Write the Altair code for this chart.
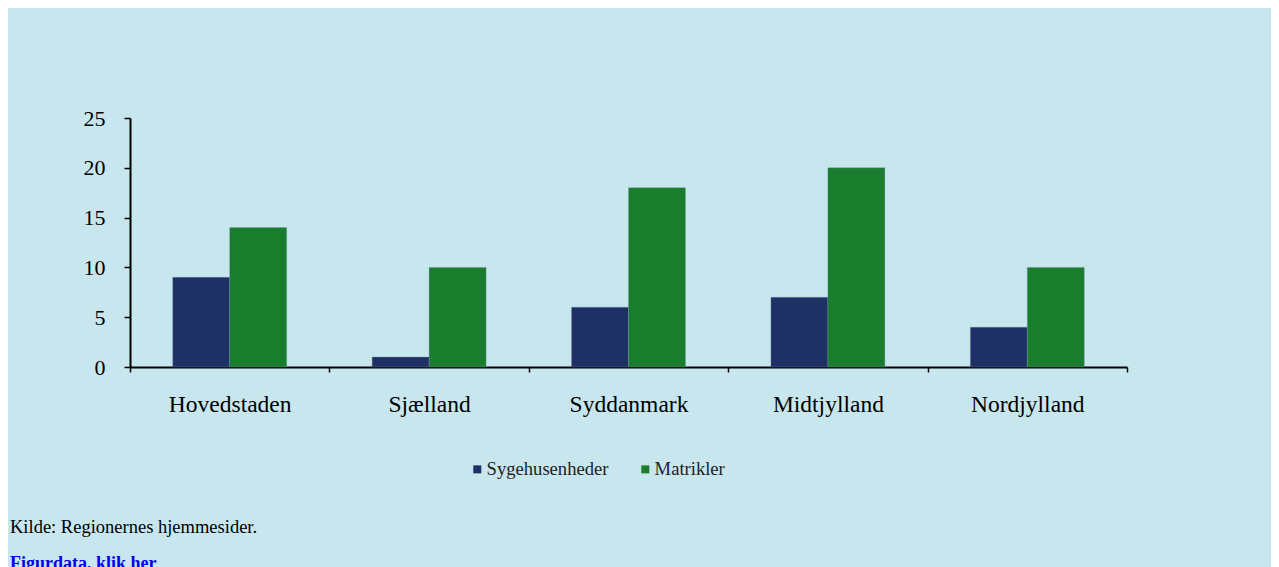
import altair as alt
import pandas as pd

regions = ["Hovedstaden", "Sjælland", "Syddanmark", "Midtjylland", "Nordjylland"]
series = ["Sygehusenheder", "Matrikler"]
sygehusenheder = [9, 1, 6, 7, 4]
matrikler = [14, 10, 18, 20, 10]
y_ticks = [0, 5, 10, 15, 20, 25]
colors = ["#1E3066", "#197D2D"]
source_text = "Kilde: Regionernes hjemmesider."
link_text = "Figurdata, klik her"

rows = []
for i, r in enumerate(regions):
    rows.append({"region": r, "serie": series[0], "value": sygehusenheder[i]})
    rows.append({"region": r, "serie": series[1], "value": matrikler[i]})
df = pd.DataFrame(rows)

W, H = 997, 249
FONT = "Liberation Serif"

bars = alt.Chart(df).mark_bar(stroke="#6f8fa8", strokeWidth=0.6, strokeOpacity=0.6).encode(
    x=alt.X("region:N", sort=regions, title=None,
            scale=alt.Scale(paddingInner=0, paddingOuter=0),
            axis=alt.Axis(labelAngle=0, tickBand="extent", tickSize=5, tickColor="black",
                          tickWidth=1.5, domainColor="black", domainWidth=2,
                          labelFont=FONT, labelFontSize=23.5, labelColor="black",
                          labelPadding=20, grid=False)),
    xOffset=alt.XOffset("serie:N", sort=series,
                        scale=alt.Scale(paddingInner=0, paddingOuter=0.75)),
    y=alt.Y("value:Q", title=None,
            scale=alt.Scale(domain=[0, 25], nice=False),
            axis=alt.Axis(values=y_ticks, tickSize=6, tickColor="black", tickWidth=1.5,
                          domainColor="black", domainWidth=2, grid=False,
                          labelFont=FONT, labelFontSize=22, labelColor="black",
                          labelPadding=19)),
    color=alt.Color("serie:N", sort=series,
                    scale=alt.Scale(domain=series, range=colors),
                    legend=alt.Legend(title=None, orient="none", direction="horizontal",
                                      legendX=338, legendY=342, symbolType="square",
                                      symbolSize=64, symbolStrokeWidth=0,
                                      labelFont=FONT, labelFontSize=18.6, labelColor="#222222",
                                      labelOffset=0, columnPadding=27)),
)

src_df = pd.DataFrame({"t": [source_text]})
src = alt.Chart(src_df).mark_text(align="left", baseline="middle", font=FONT,
                                  fontSize=18.5, color="black").encode(
    x=alt.value(-120), y=alt.value(409), text="t:N")

link_df = pd.DataFrame({"t": [link_text]})
link = alt.Chart(link_df).mark_text(align="left", baseline="top", font=FONT,
                                    fontSize=18, fontWeight="bold", color="#0000EE").encode(
    x=alt.value(-120), y=alt.value(437), text="t:N")

chart = alt.layer(bars, src, link).properties(
    width=W, height=H,
    autosize=alt.AutoSizeParams(type="none"),
    padding={"left": 122, "top": 110, "right": 144, "bottom": 200},
    background="#C8E6EE",
).configure_view(stroke=None)

chart.save("out.html", embed_options={"renderer": "svg", "actions": False})
